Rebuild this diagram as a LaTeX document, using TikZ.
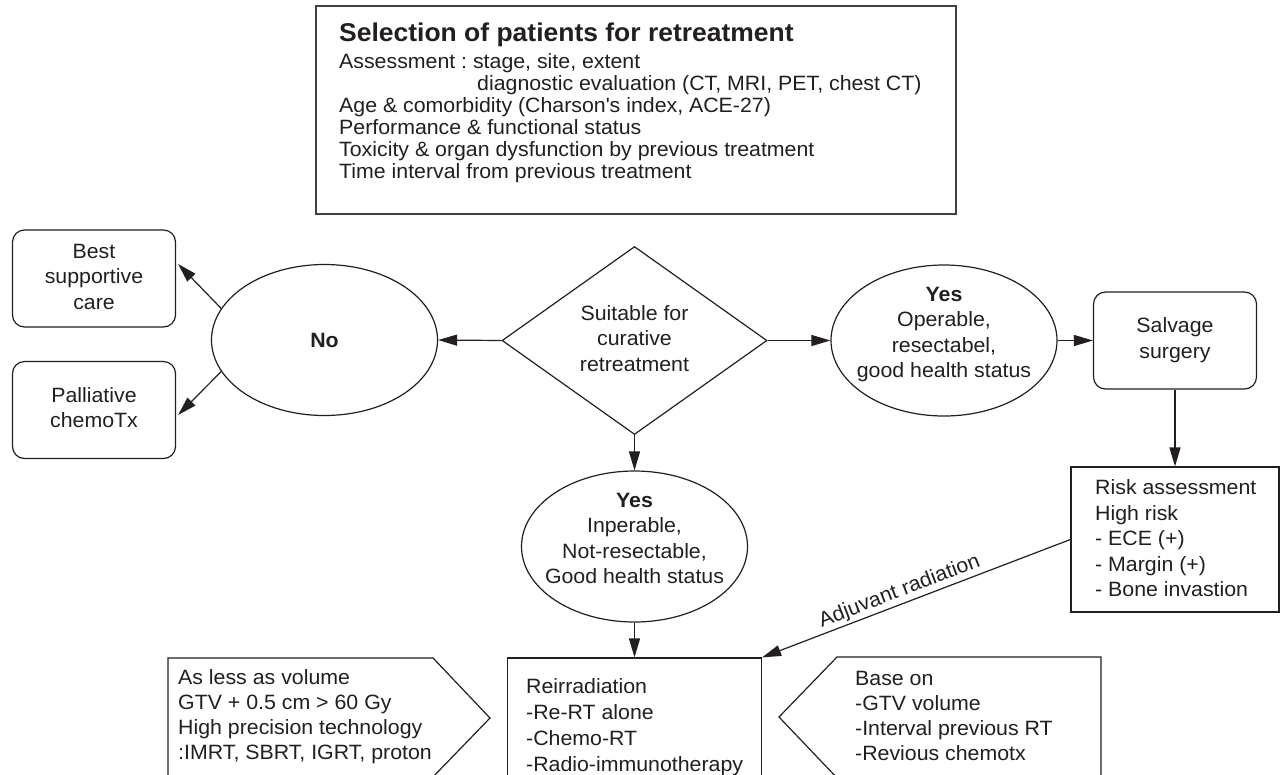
\documentclass[tikz,border=0pt]{standalone}
\usepackage{fontspec}
\setmainfont{Liberation Sans}[FakeStretch=1.03]
\usetikzlibrary{shapes.geometric,arrows.meta}
\definecolor{ink}{RGB}{35,31,32}
\frenchspacing
\newcommand{\myl}[2][t]{\begin{tabular}[#1]{@{}l@{}}#2\end{tabular}}
\newcommand{\myc}[2][c]{\begin{tabular}[#1]{@{}c@{}}#2\end{tabular}}
\begin{document}
\begin{tikzpicture}[x=1pt,y=-1pt,
  every node/.style={inner sep=0pt, text=ink},
  ln/.style={draw=ink, line width=1.2pt},
  arr/.style={draw=ink, line width=1.2pt, -{Triangle[length=19pt,width=11pt]}},
  rbox/.style={draw=ink, line width=1.2pt, rounded corners=12pt, minimum width=163pt, minimum height=97pt},
  ell/.style={ellipse, draw=ink, line width=1.2pt, minimum width=226pt, minimum height=151pt},
  plainbox/.style={draw=ink, line width=1.2pt},
  txt/.style={font=\fontsize{20.7}{25.5}\selectfont},
  btxt/.style={font=\bfseries\fontsize{20.7}{25.5}\selectfont}
]
\clip (0,0) rectangle (1281,774);
\fill[white] (0,0) rectangle (1281,774);

% top box
\node[draw=black!75, line width=1.2pt, minimum width=640pt, minimum height=208pt] (sel) at (636,110) {};
\node[anchor=base west, font=\bfseries\fontsize{25.7}{28}\selectfont] (seltitle) at (339,41) {Selection of patients for retreatment};
\node[anchor=base west, font=\fontsize{20.7}{22}\selectfont] (sellist) at (339,68) {\myl{Assessment : stage, site, extent\\
\hspace*{138pt}diagnostic evaluation (CT, MRI, PET, chest CT)\\
Age \& comorbidity (Charson\textquotesingle s index, ACE-27)\\
Performance \& functional status\\
Toxicity \& organ dysfunction by previous treatment\\
Time interval from previous treatment}};

% left side
\node[rbox, txt] (bsc) at (94,278.5) {\myc{Best\\supportive\\care}};
\node[rbox, txt] (pal) at (94,410) {\myc{Palliative\\chemoTx}};
\node[ell, btxt] (no) at (324.5,340) {No};

% decision
\node[diamond, draw=ink, line width=1.2pt, minimum width=265pt, minimum height=188pt, aspect=1.41, txt] (dia) at (634.5,340.5) {\myc{Suitable for\\curative\\retreatment}};

% right side
\node[ell] (yesR) at (944,340.5) {};
\node[anchor=base, txt] (yesRt) at (944,301) {\myc[t]{\textbf{Yes}\\Operable,\\resectabel,\\good health status}};
\node[rbox, txt] (sal) at (1175,340.5) {\myc{Salvage\\surgery}};
\node[plainbox, minimum width=208pt, minimum height=145pt] (risk) at (1175,539.5) {};
\node[anchor=base west, txt] (riskt) at (1095,494.5) {\myl{Risk assessment\\High risk\\- ECE (+)\\- Margin (+)\\- Bone invastion}};

% bottom middle
\node[ell] (yesB) at (634.5,546.5) {};
\node[anchor=base, txt] (yesBt) at (634.5,507) {\myc[t]{\textbf{Yes}\\Inperable,\\Not-resectable,\\Good health status}};
\node[plainbox, minimum width=254pt, minimum height=142pt] (reirr) at (634.5,729) {};
\node[anchor=base west, font=\fontsize{20.7}{26.3}\selectfont] (reirrt) at (526,693) {\myl{Reirradiation\\-Re-RT alone\\-Chemo-RT\\-Radio-immunotherapy}};

% pentagons
\draw[ln] (168,658) -- (433,658) -- (490,718) -- (430,780) -- (168,780) -- cycle;
\node[anchor=base west, font=\fontsize{20.7}{25.3}\selectfont] (lpt) at (178,684) {\myl{As less as volume\\GTV + 0.5 cm > 60 Gy\\High precision technology\\:IMRT, SBRT, IGRT, proton}};
\draw[ln] (837,657) -- (1101,657) -- (1101,780) -- (839,780) -- (779,717) -- cycle;
\node[anchor=base west, font=\fontsize{20.7}{25.3}\selectfont] (rpt) at (855,685) {\myl{Base on\\-GTV volume\\-Interval previous RT\\-Revious chemotx}};

% connectors
\draw[arr] (dia.west) -- (no.east);
\draw[arr] (dia.east) -- (yesR.west);
\draw[arr] (dia.south) -- (yesB.north);
\draw[arr] (yesR.east) -- (sal.west);
\draw[arr] (sal.south) -- (risk.north);
\draw[arr] (yesB.south) -- (reirr.north);
\draw[arr] (no.163) -- ([xshift=2pt,yshift=14.5pt]bsc.east);
\draw[arr] (no.197) -- ([xshift=2pt,yshift=-5pt]pal.east);
\draw[arr] (risk.west) -- node[sloped, above, pos=0.54, inner sep=2pt, txt] (adjl) {Adjuvant radiation} (reirr.north east);
\end{tikzpicture}
\end{document}
